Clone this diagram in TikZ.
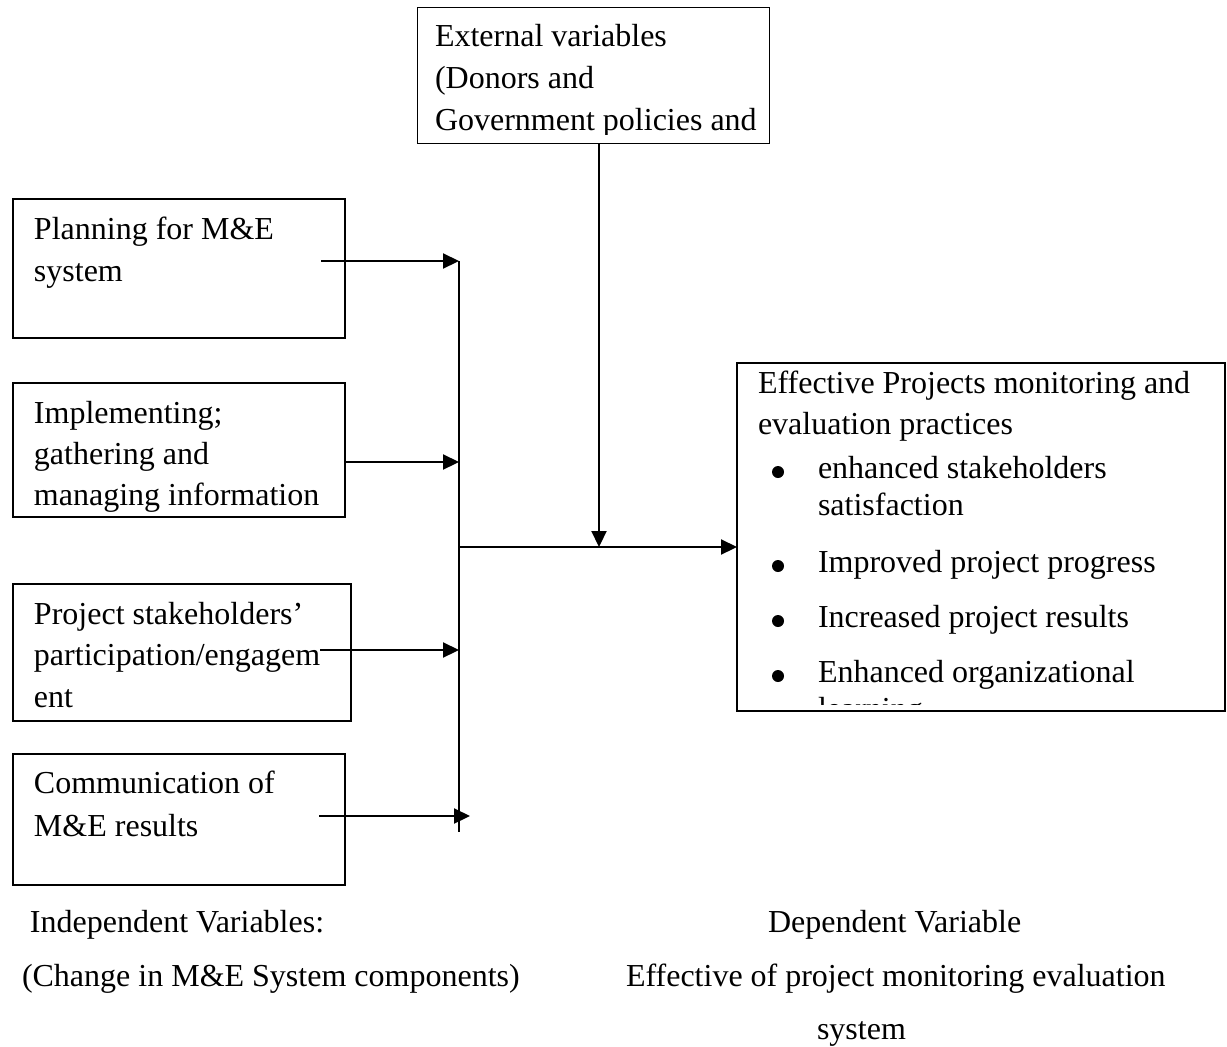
\documentclass[tikz,border=0pt]{standalone}
\usepackage{fontspec}
\setmainfont{Liberation Serif}
\usetikzlibrary{arrows.meta}

\tikzset{
  every node/.style={inner sep=0pt, outer sep=0pt},
  txt/.style={anchor=base west, font=\fontsize{32}{42}\selectfont},
  varbox/.style={draw=black, line width=1.6pt, anchor=north west},
  flow/.style={line width=2.2pt, -{Triangle[length=16pt,width=15pt]}},
  bus/.style={line width=2pt},
  bulletdot/.style={fill=black},
}

\begin{document}
\begin{tikzpicture}[x=1pt,y=1pt]
\useasboundingbox (0,0) rectangle (1227,-1047);

% ---- external variables box (text clipped by the frame) ----
\node[varbox, minimum width=352pt, minimum height=136pt] (ext) at (417.5,-7.5) {};
\begin{scope}
  \clip (418,-8) rectangle (769,-134);
  \node[txt] (ext1) at (435,-46)  {External variables};
  \node[txt] (ext2) at (435,-88)  {(Donors and};
  \node[txt] (ext3) at (435,-130) {Government policies and};
\end{scope}

% ---- independent variable boxes ----
\node[varbox, minimum width=332pt, minimum height=139pt] (plan) at (13,-199) {};
\node[txt] (plan1) at (34,-239) {Planning for M\&E};
\node[txt] (plan2) at (34,-281) {system};

\node[varbox, minimum width=332pt, minimum height=134pt] (impl) at (13,-383) {};
\node[txt] (impl1) at (34,-423) {Implementing;};
\node[txt] (impl2) at (34,-464) {gathering and};
\node[txt] (impl3) at (34,-505) {managing information};

\node[varbox, minimum width=338pt, minimum height=137pt] (part) at (13,-584) {};
\node[txt] (part1) at (34,-624) {Project stakeholders’};
\node[txt] (part2) at (34,-665) {participation/engagem};
\node[txt] (part3) at (34,-707) {ent};

\node[varbox, minimum width=332pt, minimum height=131pt] (comm) at (13,-754) {};
\node[txt] (comm1) at (34,-793) {Communication of};
\node[txt] (comm2) at (34,-836) {M\&E results};

% ---- dependent variable box (text clipped by the frame) ----
\node[varbox, minimum width=488pt, minimum height=348pt] (dep) at (737,-363) {};
\begin{scope}
  \clip (738,-364) rectangle (1225,-704);
  \node[txt] (dep1) at (758,-393) {Effective Projects monitoring and};
  \node[txt] (dep2) at (758,-434) {evaluation practices};
  \fill[bulletdot] (778,-472) circle (6pt);
  \node[txt] (dep3) at (818,-478) {enhanced stakeholders};
  \node[txt] (dep4) at (818,-515) {satisfaction};
  \fill[bulletdot] (778,-566) circle (6pt);
  \node[txt] (dep5) at (818,-572) {Improved project progress};
  \fill[bulletdot] (778,-621) circle (6pt);
  \node[txt] (dep6) at (818,-627) {Increased project results};
  \fill[bulletdot] (778,-676) circle (6pt);
  \node[txt] (dep7) at (818,-682) {Enhanced organizational};
  \node[txt] (dep8) at (818,-719) {learning};
\end{scope}

% ---- connector points ----
\coordinate (s1) at (321,-261);
\coordinate (s2) at (345,-462);
\coordinate (s3) at (320,-650);
\coordinate (s4) at (319,-816);
\coordinate (j1) at (459,-261);
\coordinate (j2) at (459,-462);
\coordinate (j3) at (459,-650);
\coordinate (j4) at (470,-816);
\coordinate (busend) at (459,-832);
\coordinate (merge) at (459,-547);
\coordinate (meet) at (599,-547);

% ---- connectors ----
\draw[flow] (s1) -- (j1);
\draw[flow] (s2) -- (j2);
\draw[flow] (s3) -- (j3);
\draw[flow] (s4) -- (j4);
\draw[bus] (j1) -- (busend);
\draw[flow] (merge) -- (dep.west |- merge);
\draw[flow] (ext.south -| meet) -- (meet);

% ---- captions ----
\node[txt] (cap1) at (30,-932)  {Independent Variables:};
\node[txt] (cap2) at (22,-986)  {(Change in M\&E System components)};
\node[txt] (cap3) at (768,-932) {Dependent Variable};
\node[txt] (cap4) at (626,-986) {Effective of project monitoring evaluation};
\node[txt] (cap5) at (817,-1039) {system};
\end{tikzpicture}
\end{document}
